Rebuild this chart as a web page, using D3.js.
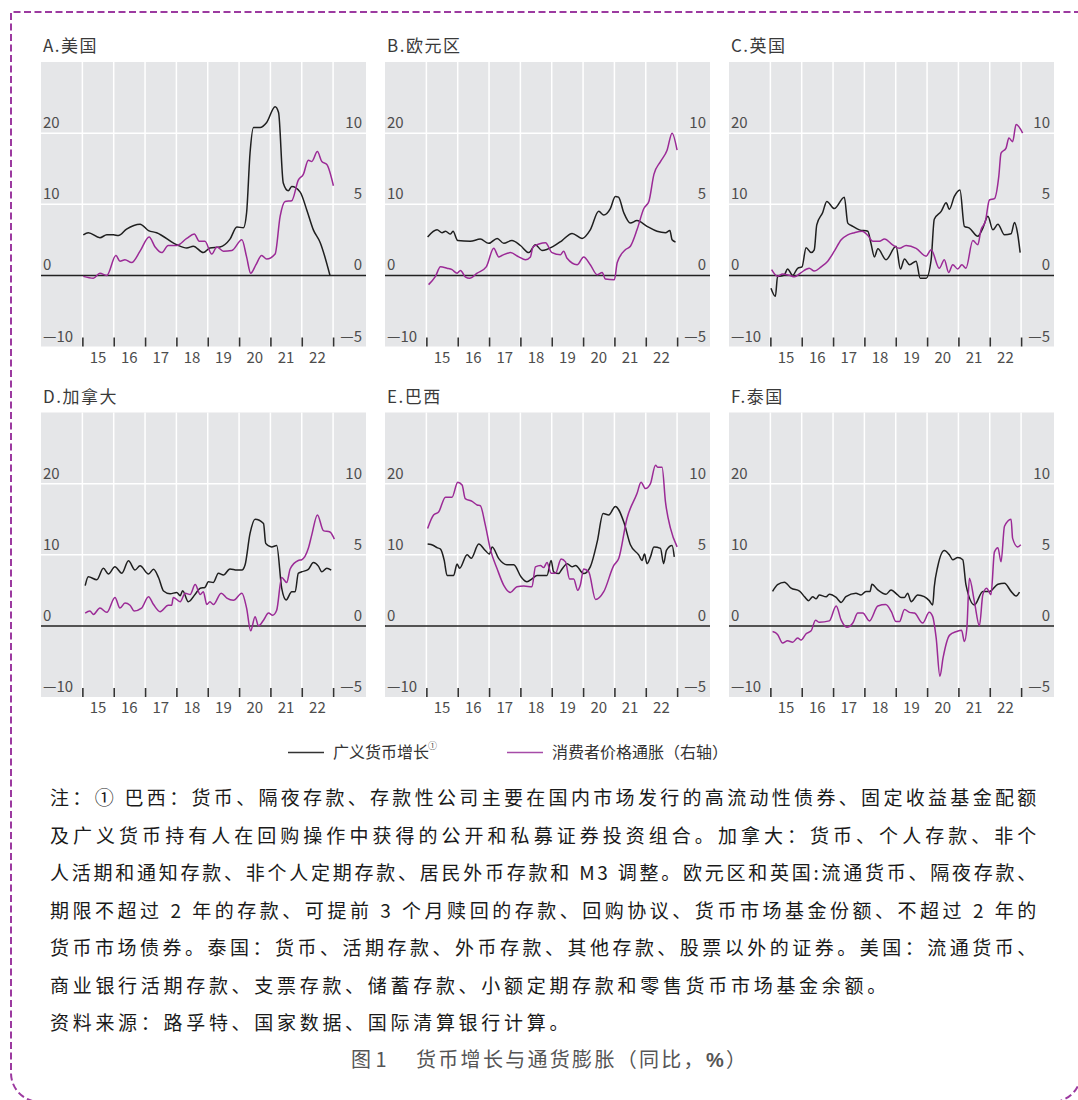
<!DOCTYPE html>
<html>
<head>
<meta charset="utf-8">
<script src="https://cdn.jsdelivr.net/npm/d3@7"></script>
<style>
  html, body { margin: 0; padding: 0; background: #fff; }
  svg { display: block; }
  text { font-family: "Noto Sans CJK SC", "Liberation Sans", sans-serif; }
</style>
</head>
<body>
<svg id="chart" width="1078" height="1100"></svg>
<script>
// ---- Data: year-on-year % changes, [decimal year, value] ----
// Broad money growth (left axis) and CPI inflation (right axis)
const usMoney = [[2015.03,5.7],[2015.19,6.0],[2015.56,5.3],[2015.78,5.7],[2015.99,5.7],[2016.15,5.6],[2016.41,6.5],[2016.84,7.2],[2017.11,6.3],[2017.37,6.0],[2018.01,4.3],[2018.33,3.85],[2018.54,4.1],[2018.86,3.2],[2019.07,3.85],[2019.39,4.0],[2019.71,5.1],[2019.93,6.8],[2020.14,6.7],[2020.24,8.8],[2020.35,17.2],[2020.46,20.8],[2020.67,20.8],[2020.88,21.5],[2021.15,23.7],[2021.26,22.9],[2021.41,13.0],[2021.57,11.9],[2021.68,12.5],[2021.95,11.7],[2022.16,9.2],[2022.37,6.4],[2022.59,4.6],[2022.90,0.0]];
const usCpi = [[2015.03,-0.07],[2015.35,-0.2],[2015.56,0.15],[2015.78,0.0],[2016.07,1.4],[2016.20,1.0],[2016.36,1.1],[2016.57,0.9],[2016.84,1.7],[2017.13,2.7],[2017.32,2.0],[2017.53,1.6],[2017.74,2.1],[2018.01,2.1],[2018.33,2.6],[2018.57,2.9],[2018.73,2.4],[2018.91,2.4],[2019.13,1.5],[2019.29,2.0],[2019.50,1.7],[2019.77,1.75],[2020.09,2.5],[2020.24,1.3],[2020.37,0.15],[2020.54,0.75],[2020.72,1.4],[2020.88,1.15],[2021.15,1.5],[2021.31,4.15],[2021.47,5.2],[2021.68,5.25],[2021.89,6.7],[2022.05,7.1],[2022.21,8.1],[2022.32,8.0],[2022.50,8.7],[2022.64,8.0],[2022.80,7.8],[2023.01,6.3]];

const euMoney = [[2015.04,5.4],[2015.34,6.4],[2015.50,6.0],[2015.61,6.2],[2015.77,5.8],[2015.85,6.2],[2016.00,4.9],[2016.40,4.8],[2016.72,5.1],[2016.99,4.5],[2017.26,5.2],[2017.47,4.5],[2017.73,4.9],[2018.00,4.2],[2018.27,3.2],[2018.48,4.3],[2018.69,3.5],[2019.06,4.1],[2019.33,4.9],[2019.65,5.9],[2019.97,5.2],[2020.23,6.4],[2020.50,9.0],[2020.66,8.5],[2020.87,9.4],[2021.03,11.1],[2021.13,11.0],[2021.30,8.8],[2021.51,7.35],[2021.72,7.7],[2022.04,6.9],[2022.36,6.2],[2022.63,6.0],[2022.77,6.3],[2022.84,5.0],[2022.95,4.7]];
const euCpi = [[2015.07,-0.65],[2015.29,-0.07],[2015.45,0.6],[2015.66,0.5],[2015.82,0.4],[2015.98,0.15],[2016.09,0.35],[2016.24,-0.1],[2016.38,-0.2],[2016.62,0.15],[2016.91,0.6],[2017.15,1.9],[2017.31,1.3],[2017.41,1.4],[2017.68,1.6],[2017.95,1.3],[2018.16,1.1],[2018.32,1.3],[2018.40,2.0],[2018.59,2.2],[2018.80,2.3],[2019.01,1.6],[2019.28,1.45],[2019.38,1.7],[2019.49,1.2],[2019.81,0.75],[2020.02,1.3],[2020.23,0.75],[2020.45,0.05],[2020.61,0.2],[2020.71,-0.25],[2021.00,-0.3],[2021.09,0.9],[2021.35,1.8],[2021.51,2.05],[2021.72,3.2],[2021.94,4.7],[2022.10,5.2],[2022.26,7.1],[2022.47,8.0],[2022.68,8.8],[2022.84,10.0],[2023.00,8.8]];

const ukMoney = [[2015.02,-1.8],[2015.16,-2.95],[2015.23,-0.15],[2015.34,-0.1],[2015.45,0.1],[2015.55,0.9],[2015.71,0.0],[2015.87,1.0],[2016.01,1.2],[2016.14,3.9],[2016.30,3.2],[2016.40,3.6],[2016.48,7.1],[2016.67,8.85],[2016.80,10.4],[2017.04,9.4],[2017.36,11.0],[2017.47,7.35],[2017.63,6.9],[2017.84,6.4],[2018.11,6.2],[2018.21,4.5],[2018.32,2.6],[2018.43,3.75],[2018.69,2.2],[2019.01,4.1],[2019.15,0.9],[2019.28,2.3],[2019.44,1.5],[2019.65,2.0],[2019.78,-0.4],[2019.97,-0.4],[2020.13,2.2],[2020.23,7.9],[2020.45,9.0],[2020.61,10.2],[2020.71,9.3],[2020.87,11.1],[2021.05,12.0],[2021.19,6.9],[2021.35,6.65],[2021.62,5.5],[2021.78,6.65],[2021.94,8.3],[2022.10,6.4],[2022.26,7.2],[2022.47,5.7],[2022.68,5.85],[2022.79,7.45],[2022.89,5.85],[2022.97,3.2]];
const ukCpi = [[2015.04,0.4],[2015.23,-0.07],[2015.39,0.1],[2015.61,0.0],[2015.77,-0.1],[2015.98,0.2],[2016.24,0.5],[2016.40,0.3],[2016.62,0.6],[2016.83,1.0],[2017.04,1.7],[2017.26,2.5],[2017.47,2.85],[2017.68,3.0],[2017.93,3.1],[2018.11,2.8],[2018.27,2.4],[2018.48,2.4],[2018.64,2.55],[2018.90,2.15],[2019.12,1.9],[2019.33,2.1],[2019.65,1.9],[2019.97,1.35],[2020.13,1.8],[2020.39,0.5],[2020.55,1.1],[2020.69,0.2],[2020.82,0.75],[2020.98,0.45],[2021.11,0.75],[2021.24,0.5],[2021.46,2.45],[2021.62,2.15],[2021.72,3.2],[2021.86,3.8],[2021.99,5.3],[2022.15,5.4],[2022.29,7.0],[2022.36,8.6],[2022.52,8.95],[2022.61,9.65],[2022.73,9.4],[2022.84,10.6],[2023.05,10.0]];

const caMoney = [[2015.09,5.65],[2015.19,6.9],[2015.46,6.5],[2015.67,8.1],[2015.83,7.3],[2016.04,8.3],[2016.26,7.4],[2016.47,9.15],[2016.68,7.85],[2016.84,8.45],[2017.11,7.3],[2017.27,7.95],[2017.43,6.8],[2017.59,4.9],[2017.80,4.5],[2018.01,4.7],[2018.12,4.25],[2018.20,4.95],[2018.38,3.4],[2018.60,4.45],[2018.76,5.3],[2018.91,5.4],[2019.02,6.2],[2019.18,6.1],[2019.34,7.4],[2019.50,7.15],[2019.71,8.0],[2019.93,7.85],[2020.09,7.85],[2020.19,8.55],[2020.35,13.0],[2020.51,15.0],[2020.78,14.4],[2020.85,11.6],[2021.04,11.1],[2021.20,11.3],[2021.36,5.3],[2021.50,3.65],[2021.68,4.8],[2021.79,4.8],[2021.89,7.4],[2022.00,7.6],[2022.21,7.95],[2022.37,8.9],[2022.53,8.4],[2022.64,7.6],[2022.80,8.1],[2022.94,7.85]];
const caCpi = [[2015.09,0.9],[2015.24,1.05],[2015.35,0.8],[2015.56,1.25],[2015.78,0.95],[2016.04,2.0],[2016.20,1.25],[2016.36,1.6],[2016.52,1.45],[2016.65,1.05],[2016.89,1.25],[2017.11,2.05],[2017.27,1.5],[2017.48,1.0],[2017.74,1.45],[2017.85,1.45],[2017.90,2.0],[2018.12,1.7],[2018.28,2.3],[2018.44,2.2],[2018.60,2.9],[2018.76,2.2],[2018.86,2.4],[2018.97,1.5],[2019.07,1.7],[2019.18,1.5],[2019.43,2.3],[2019.61,1.95],[2019.82,1.8],[2020.09,2.3],[2020.24,1.25],[2020.37,-0.35],[2020.51,0.65],[2020.62,0.0],[2020.78,0.4],[2020.94,0.9],[2021.07,0.75],[2021.20,1.1],[2021.36,3.4],[2021.52,3.05],[2021.63,4.0],[2021.89,4.6],[2022.00,4.65],[2022.21,5.45],[2022.32,6.4],[2022.50,7.8],[2022.69,6.7],[2022.90,6.6],[2023.04,6.1]];

const brMoney = [[2015.04,11.5],[2015.23,11.3],[2015.34,11.0],[2015.45,10.8],[2015.57,9.2],[2015.66,7.1],[2015.87,7.1],[2015.98,8.7],[2016.06,8.1],[2016.30,10.0],[2016.43,9.5],[2016.67,11.5],[2016.88,10.6],[2017.01,10.1],[2017.10,11.1],[2017.31,9.45],[2017.57,8.6],[2017.79,8.6],[2018.02,6.9],[2018.21,6.2],[2018.37,6.6],[2018.53,7.1],[2018.85,7.1],[2018.98,9.2],[2019.06,7.6],[2019.22,7.35],[2019.33,8.0],[2019.49,8.75],[2019.65,8.3],[2019.76,8.5],[2020.02,7.35],[2020.23,8.3],[2020.45,11.8],[2020.64,15.8],[2020.82,15.6],[2021.03,16.8],[2021.30,14.6],[2021.51,11.4],[2021.78,9.95],[2021.88,9.2],[2021.96,10.1],[2022.04,8.75],[2022.15,9.7],[2022.26,11.1],[2022.47,10.9],[2022.57,8.75],[2022.66,10.6],[2022.84,11.3],[2022.91,9.7]];
const brCpi = [[2015.04,6.85],[2015.23,7.8],[2015.39,8.0],[2015.61,9.05],[2015.82,9.05],[2016.00,10.1],[2016.14,9.9],[2016.24,8.95],[2016.46,8.75],[2016.62,8.5],[2016.72,8.45],[2016.88,7.1],[2017.04,5.4],[2017.26,4.0],[2017.47,2.85],[2017.68,2.35],[2017.89,2.75],[2018.11,2.8],[2018.37,2.75],[2018.48,4.15],[2018.64,4.25],[2018.74,4.1],[2018.85,4.45],[2018.98,3.7],[2019.12,3.7],[2019.30,4.7],[2019.44,4.5],[2019.57,3.3],[2019.70,3.3],[2019.83,2.5],[2019.91,2.85],[2020.02,4.0],[2020.18,3.8],[2020.40,1.85],[2020.66,2.4],[2020.98,4.25],[2021.14,4.75],[2021.40,7.55],[2021.72,9.3],[2021.85,10.1],[2021.99,9.65],[2022.15,10.0],[2022.31,11.3],[2022.38,11.15],[2022.52,11.15],[2022.63,8.7],[2022.79,6.85],[2023.00,5.55]];

const thMoney = [[2015.07,4.85],[2015.23,5.8],[2015.45,6.15],[2015.66,5.3],[2015.93,4.9],[2016.09,4.1],[2016.22,3.55],[2016.35,4.1],[2016.46,3.8],[2016.56,4.35],[2016.78,4.1],[2016.88,4.45],[2017.10,4.0],[2017.26,3.3],[2017.41,4.1],[2017.73,4.6],[2017.89,4.35],[2018.05,4.85],[2018.18,4.85],[2018.24,5.85],[2018.43,5.05],[2018.69,4.45],[2018.85,5.05],[2019.06,4.35],[2019.17,4.0],[2019.28,4.0],[2019.38,4.6],[2019.49,3.4],[2019.70,4.35],[2019.91,4.1],[2020.07,3.55],[2020.18,2.95],[2020.23,5.5],[2020.34,8.35],[2020.55,10.6],[2020.71,10.0],[2020.82,9.3],[2020.98,9.6],[2021.14,9.3],[2021.24,5.8],[2021.51,2.95],[2021.78,4.85],[2021.99,4.85],[2022.26,5.85],[2022.47,6.0],[2022.68,4.85],[2022.84,4.2],[2022.95,4.75]];
const thCpi = [[2015.07,-0.4],[2015.23,-0.6],[2015.39,-1.2],[2015.55,-1.05],[2015.71,-1.15],[2015.87,-0.85],[2015.98,-1.0],[2016.14,-0.55],[2016.30,-0.35],[2016.44,0.4],[2016.56,0.25],[2016.88,0.35],[2017.10,1.4],[2017.26,0.4],[2017.44,-0.1],[2017.63,0.2],[2017.79,0.9],[2017.95,0.9],[2018.16,0.35],[2018.43,1.4],[2018.68,1.5],[2018.86,1.0],[2019.01,0.3],[2019.12,0.3],[2019.28,1.15],[2019.44,0.95],[2019.60,0.9],[2019.86,0.2],[2020.07,0.95],[2020.18,0.65],[2020.29,-0.85],[2020.41,-3.55],[2020.51,-2.25],[2020.72,-0.65],[2020.94,-0.4],[2021.10,-0.3],[2021.19,-1.1],[2021.27,-0.15],[2021.35,3.35],[2021.51,1.7],[2021.67,0.0],[2021.78,2.2],[2021.90,2.65],[2022.04,2.2],[2022.15,5.2],[2022.26,5.5],[2022.36,4.5],[2022.47,7.0],[2022.68,7.5],[2022.73,6.15],[2022.89,5.55],[2022.99,5.7]];

const panelTitles = ["A.美国", "B.欧元区", "C.英国", "D.加拿大", "E.巴西", "F.泰国"];
const yearBreaks = [2015, 2016, 2017, 2018, 2019, 2020, 2021, 2022, 2023];
const yearLabels = ["15", "16", "17", "18", "19", "20", "21", "22"];
const leftTicks = [-10, 0, 10, 20];
const rightTicks = [-5, 0, 5, 10];
const legendLabels = ["广义货币增长", "消费者价格通胀（右轴）"];
const noteLines = [
  "注：① 巴西：货币、隔夜存款、存款性公司主要在国内市场发行的高流动性债券、固定收益基金配额",
  "及广义货币持有人在回购操作中获得的公开和私募证券投资组合。加拿大：货币、个人存款、非个",
  "人活期和通知存款、非个人定期存款、居民外币存款和 M3 调整。欧元区和英国:流通货币、隔夜存款、",
  "期限不超过 2 年的存款、可提前 3 个月赎回的存款、回购协议、货币市场基金份额、不超过 2 年的",
  "货币市场债券。泰国：货币、活期存款、外币存款、其他存款、股票以外的证券。美国：流通货币、",
  "商业银行活期存款、支票存款、储蓄存款、小额定期存款和零售货币市场基金余额。",
  "资料来源：路孚特、国家数据、国际清算银行计算。"
];
const captionNumber = "图 1";
const captionText = "货币增长与通货膨胀（同比，";

const panels = [
  { title: panelTitles[0], money: usMoney, cpi: usCpi },
  { title: panelTitles[1], money: euMoney, cpi: euCpi },
  { title: panelTitles[2], money: ukMoney, cpi: ukCpi },
  { title: panelTitles[3], money: caMoney, cpi: caCpi },
  { title: panelTitles[4], money: brMoney, cpi: brCpi },
  { title: panelTitles[5], money: thMoney, cpi: thCpi }
];

// ---- Layout ----
const svg = d3.select("#chart");
const W = 325, H = 284.5;
const colX = [41, 385, 729];
const rowY = [62, 412.5];
const MONEY = "#1f1f1f", CPI = "#9b2a96", GRID_BG = "#e5e6e8", TXT = "#4d4d4d";

// dashed frame, square top corners, rounded bottom corners
(function frame() {
  const l = 11, t = 12, r = 1081, b = 1102, rad = 29;
  const p = d3.path();
  p.moveTo(r, t);
  p.lineTo(l, t);
  p.lineTo(l, b - rad);
  p.arcTo(l, b, l + rad, b, rad);
  p.lineTo(r - rad, b);
  p.arcTo(r, b, r, b - rad, rad);
  p.lineTo(r, t);
  svg.append("path").attr("d", p.toString())
    .attr("fill", "none").attr("stroke", "#9c3aa0")
    .attr("stroke-width", 2).attr("stroke-dasharray", "7 3.5");
})();

const x = d3.scaleLinear().domain([2013.68, 2024.05]).range([0, W]);
const yL = d3.scaleLinear().domain([-10, 30]).range([H, 0]);
const yR = d3.scaleLinear().domain([-5, 15]).range([H, 0]);
const fmt = d => d < 0 ? "—" + Math.abs(d) : String(d);

panels.forEach((p, i) => {
  const g = svg.append("g")
    .attr("transform", `translate(${colX[i % 3]},${rowY[Math.floor(i / 3)]})`);

  g.append("text").attr("x", 2).attr("y", -10)
    .attr("font-size", 17).attr("letter-spacing", 1.5)
    .attr("fill", "#3a3a3a").text(p.title);

  g.append("rect").attr("width", W).attr("height", H).attr("fill", GRID_BG);

  // vertical gridlines at year breaks
  g.selectAll(".vg").data(yearBreaks).join("line")
    .attr("x1", d => x(d)).attr("x2", d => x(d))
    .attr("y1", 0).attr("y2", H)
    .attr("stroke", "#fff").attr("stroke-width", 1.5);

  // horizontal gridlines
  g.selectAll(".hg").data([10, 20]).join("line")
    .attr("x1", 0).attr("x2", W)
    .attr("y1", d => yL(d)).attr("y2", d => yL(d))
    .attr("stroke", "#fff").attr("stroke-width", 1.5);

  // tick marks on the bottom edge, pointing inward
  const ax = g.append("g").attr("transform", `translate(0,${H})`)
    .call(d3.axisBottom(x).tickValues(yearBreaks).tickSize(-9).tickFormat(""));
  ax.select(".domain").remove();
  ax.selectAll(".tick line").attr("stroke", "#333").attr("stroke-width", 1.6);

  // year labels centred within each year
  g.selectAll(".yl").data(yearLabels).join("text")
    .attr("x", (d, k) => x(yearBreaks[k] + 0.5))
    .attr("y", H + 16)
    .attr("text-anchor", "middle")
    .attr("font-family", "Liberation Sans, sans-serif")
    .attr("font-size", 15).attr("fill", TXT).text(d => d);

  // axis labels inside the plot
  g.selectAll(".ll").data(leftTicks).join("text")
    .attr("x", 2).attr("y", d => yL(d) - 5)
    .attr("font-family", "Liberation Sans, sans-serif")
    .attr("font-size", 15).attr("fill", TXT).text(fmt);
  g.selectAll(".rl").data(rightTicks).join("text")
    .attr("x", W - 4).attr("y", d => yR(d) - 5)
    .attr("text-anchor", "end")
    .attr("font-family", "Liberation Sans, sans-serif")
    .attr("font-size", 15).attr("fill", TXT).text(fmt);

  // zero line
  g.append("line").attr("x1", 0).attr("x2", W)
    .attr("y1", yL(0)).attr("y2", yL(0))
    .attr("stroke", "#222").attr("stroke-width", 1.5);

  const lineL = d3.line().x(d => x(d[0])).y(d => yL(d[1])).curve(d3.curveMonotoneX);
  const lineR = d3.line().x(d => x(d[0])).y(d => yR(d[1])).curve(d3.curveMonotoneX);

  g.append("path").datum(p.money).attr("d", lineL)
    .attr("fill", "none").attr("stroke", MONEY).attr("stroke-width", 1.5);
  g.append("path").datum(p.cpi).attr("d", lineR)
    .attr("fill", "none").attr("stroke", CPI).attr("stroke-width", 1.5);
});

// ---- Legend ----
const lg = svg.append("g");
lg.append("line").attr("x1", 288).attr("x2", 324).attr("y1", 752.5).attr("y2", 752.5)
  .attr("stroke", "#333").attr("stroke-width", 1.3);
lg.append("text").attr("x", 333).attr("y", 758).attr("font-size", 16).attr("fill", "#333")
  .text(legendLabels[0]);
lg.append("text").attr("x", 428).attr("y", 749).attr("font-size", 9).attr("fill", "#555").text("①");
lg.append("line").attr("x1", 507).attr("x2", 543).attr("y1", 752.5).attr("y2", 752.5)
  .attr("stroke", "#a64ba8").attr("stroke-width", 1.3);
lg.append("text").attr("x", 552).attr("y", 758).attr("font-size", 16).attr("fill", "#333")
  .text(legendLabels[1]);

// ---- Notes ----
const notes = svg.append("g");
noteLines.forEach((t, i) => {
  const tx = notes.append("text")
    .attr("x", 50).attr("y", 805 + i * 37.5)
    .attr("font-size", 19).attr("letter-spacing", 3.7)
    .attr("fill", "#1a1a1a").text(t);
  if (i < 5) tx.attr("textLength", 990).attr("lengthAdjust", "spacing");
});

// ---- Caption ----
svg.append("text").attr("x", 351).attr("y", 1067)
  .attr("font-size", 20).attr("fill", "#555").text(captionNumber);
const cap = svg.append("text").attr("x", 416).attr("y", 1067)
  .attr("font-size", 20).attr("letter-spacing", 2.3).attr("fill", "#555");
cap.append("tspan").text(captionText);
cap.append("tspan").attr("font-weight", "bold").attr("font-family", "Liberation Sans, sans-serif").text("%");
cap.append("tspan").text("）");
</script>
</body>
</html>
